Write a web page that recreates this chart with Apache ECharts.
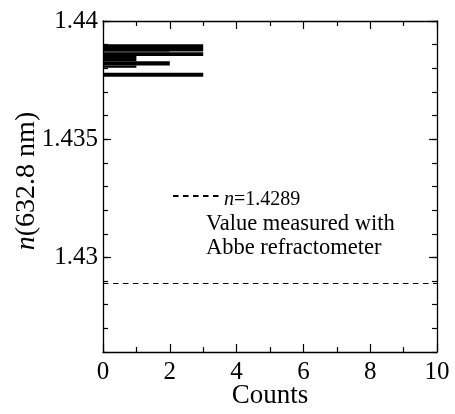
<!DOCTYPE html>
<html>
<head>
<meta charset="utf-8">
<script src="https://cdn.jsdelivr.net/npm/echarts@6/dist/echarts.min.js"></script>
<style>
html,body{margin:0;padding:0;background:#fff;}
#main{width:455px;height:414px;}
</style>
</head>
<body>
<div id="main"></div>
<script>
// Histogram segments: lower edge, upper edge of n, and count
const nLow  = [1.43871, 1.43868, 1.43852, 1.43830, 1.43812, 1.43802, 1.43764];
const nHigh = [1.43902, 1.43871, 1.43868, 1.43852, 1.43830, 1.43812, 1.43781];
const counts = [3, 2, 3, 1, 2, 1, 3];
// Abbe refractometer value
const abbeValue = 1.4289;
const abbeX = [0, 10];
// axis ranges / ticks
const xMin = 0, xMax = 10, xStep = 2;
const yMin = 1.426, yMax = 1.44, yMinorStep = 0.001;
const yMajorTicks = [1.43, 1.435, 1.44];
const legendLabel = 'n=1.4289';
const noteLines = ['Value measured with', 'Abbe refractometer'];

const FONT = '"Liberation Serif", "Times New Roman", serif';
const chart = echarts.init(document.getElementById('main'));

const histData = nLow.map((lo, i) => [0, counts[i], lo, nHigh[i]]);

const LINE = {color: '#000', width: 1.3};
const TICK = {color: '#000', width: 1.2};

function xAx(pos, showLabel) {
  const a = {
    type: 'value', min: xMin, max: xMax, interval: xStep, position: pos,
    axisLine: {onZero: false, lineStyle: LINE},
    axisTick: {inside: true, length: 8, lineStyle: TICK},
    minorTick: {show: true, splitNumber: 2, length: 5, lineStyle: TICK},
    splitLine: {show: false},
    axisLabel: showLabel ? {margin: 8, fontFamily: FONT, fontSize: 25, color: '#000'} : {show: false}
  };
  if (showLabel) {
    Object.assign(a, {name: 'Counts', nameLocation: 'middle', nameGap: 30, nameMoveOverlap: false,
      nameTextStyle: {fontFamily: FONT, fontSize: 27, color: '#000'}});
  }
  return a;
}
function yMinorAx(pos, showLabel) {
  return {
    type: 'value', min: yMin, max: yMax, interval: yMinorStep, position: pos,
    axisLine: {onZero: false, lineStyle: LINE},
    axisTick: {inside: true, length: 5, lineStyle: TICK},
    splitLine: {show: false},
    axisLabel: showLabel ? {margin: 5, fontFamily: FONT, fontSize: 25, color: '#000',
      formatter: v => { const k = Math.round(v * 1000); return k % 5 === 0 ? String(k / 1000) : ''; }}
      : {show: false}
  };
}
function yMajorAx(pos) {
  return {
    type: 'value', min: yMin, max: yMax, position: pos,
    axisLine: {show: false, onZero: false},
    axisTick: {inside: true, length: 8, lineStyle: TICK, customValues: yMajorTicks},
    splitLine: {show: false},
    axisLabel: {show: false}
  };
}

chart.setOption({
  animation: false,
  backgroundColor: '#fff',
  grid: {left: 103, right: 18, top: 21, bottom: 62, containLabel: false, outerBoundsMode: 'none'},
  xAxis: [xAx('bottom', true), xAx('top', false)],
  yAxis: [yMinorAx('left', true), yMinorAx('right', false), yMajorAx('left'), yMajorAx('right')],
  legend: {
    left: 172, top: 182, padding: 0, itemWidth: 46, itemHeight: 12,
    selectedMode: false,
    data: [legendLabel],
    itemStyle: {opacity: 0},
    formatter: () => '{i|n}=1.4289',
    textStyle: {fontFamily: FONT, fontSize: 20, lineHeight: 20, color: '#000', padding: [8, 0, 0, 0],
      rich: {i: {fontFamily: FONT, fontSize: 20, lineHeight: 20, fontStyle: 'italic', color: '#000'}}}
  },
  graphic: [
    {type: 'text', left: 206, top: 212,
      style: {text: noteLines.join('\n'), font: '22.5px ' + FONT, fill: '#000', lineHeight: 24}},
    {type: 'text', x: 27, y: 181, rotation: Math.PI / 2,
      style: {text: '{i|n}(632.8 nm)', font: '28px ' + FONT, fill: '#000',
        align: 'center', verticalAlign: 'middle',
        rich: {i: {font: 'italic 28px ' + FONT, fill: '#000'}}}}
  ],
  series: [
    {
      type: 'custom', xAxisIndex: 0, yAxisIndex: 0,
      encode: {x: [0, 1], y: [2, 3]},
      data: histData,
      renderItem: function (params, api) {
        const p1 = api.coord([api.value(0), api.value(3)]);
        const p2 = api.coord([api.value(1), api.value(2)]);
        return {type: 'rect',
          shape: {x: p1[0], y: p1[1], width: p2[0] - p1[0], height: p2[1] - p1[1]},
          style: {fill: '#000'}};
      }
    },
    {
      name: legendLabel, type: 'line', xAxisIndex: 0, yAxisIndex: 0,
      data: abbeX.map(x => [x, abbeValue]),
      symbol: 'none', silent: true,
      lineStyle: {color: '#000', width: 1.1, type: [5.5, 4.5]},
      itemStyle: {color: '#000'}
    }
  ]
});
</script>
</body>
</html>
